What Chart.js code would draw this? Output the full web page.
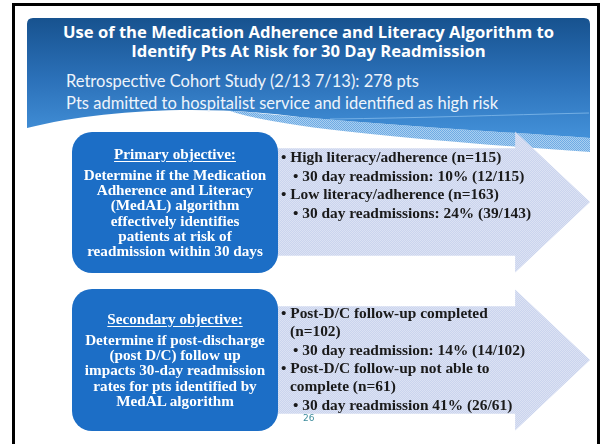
<!DOCTYPE html>
<html>
<head>
<meta charset="utf-8">
<script src="https://cdn.jsdelivr.net/npm/chart.js@4/dist/chart.umd.min.js"></script>
<style>
  html, body { margin: 0; padding: 0; background: #fff; }
  #slide { position: relative; width: 602px; height: 444px; overflow: hidden; background: #fff; }
  #frame { position: absolute; left: 12px; top: 3px; width: 582px; height: 500px; border: 3px solid #000; }
  #wave { position: absolute; left: 0; top: 0; }
  .title { position: absolute; left: 27px; width: 563px; text-align: center; color: #fff;
           font: bold 16.6px 'Open Sans', sans-serif; line-height: 19px; white-space: nowrap; }
  .sub { position: absolute; left: 66px; color: #eef4fb; font: 16.5px Lato, sans-serif; line-height: 20px; white-space: nowrap; }
  #arrow-wrap { position: absolute; left: 270px; top: 123px; width: 320px; height: 316px; }
  .objbox { position: absolute; left: 72px; width: 206px; background: #1c6ec6; border-radius: 20px; }
  .objtxt { position: absolute; left: 72px; width: 206px; text-align: center; color: #fff;
            font: bold 15.2px 'Liberation Serif', serif; line-height: 15px; white-space: nowrap; }
  .objtxt.head { text-decoration: underline; text-underline-offset: 2px; }
  .res { position: absolute; color: #1a1a1a; font: bold 15.4px 'Liberation Serif', serif; line-height: 18px; white-space: nowrap; }
  #pagenum { position: absolute; left: 303px; top: 413px; color: #3d8c9c; font: 9px 'DejaVu Sans', sans-serif; }
</style>
</head>
<body>
<div id="slide">
  <div id="frame"></div>
  <svg id="wave" width="602" height="444">
    <defs>
      <linearGradient id="hdr" x1="0" y1="0" x2="0" y2="1">
        <stop offset="0" stop-color="#17528f"/>
        <stop offset="0.5" stop-color="#2b70b8"/>
        <stop offset="1" stop-color="#4391d9"/>
      </linearGradient>
      <pattern id="dots" width="2" height="2" patternUnits="userSpaceOnUse">
        <rect width="2" height="2" fill="#a9cff0"/>
        <rect width="1" height="1" fill="#6fabe4"/>
        <rect x="1" y="1" width="1" height="1" fill="#6fabe4"/>
      </pattern>
    </defs>
    <path d="M230,111 C280,128 420,140 590,152 L590,138 C500,132 400,126 300,117 C270,114 250,112 230,111 Z" fill="url(#dots)"/>
    <path d="M27,24 Q27,18 33,18 L584,18 Q590,18 590,24 L590,138 C500,132 400,126 300,117 C200,104 100,110 27,128 Z" fill="url(#hdr)"/>
    <path d="M330,119 C420,118 500,115 589,113" fill="none" stroke="#8cc0ee" stroke-width="1" opacity="0.7"/>
  </svg>
  <div class="title" id="t1" style="top:22px"></div>
  <div class="title" id="t2" style="top:41px"></div>
  <div class="sub" id="s1" style="top:71px"></div>
  <div class="sub" id="s2" style="top:93px"></div>

  <div id="arrow-wrap"><canvas id="arrows"></canvas></div>

  <div class="objbox" style="top:132px;height:141px"></div>
  <div class="objbox" style="top:289px;height:142px"></div>
  <div id="texts"></div>
  <div id="pagenum">26</div>
</div>

<script>
// slide text
const titleLines = ['Use of the Medication Adherence and Literacy Algorithm to', 'Identify Pts At Risk for 30 Day Readmission'];
const studyLines = ['Retrospective Cohort Study (2/13 7/13): 278 pts', 'Pts admitted to hospitalist service and identified as high risk'];

const objectives = ['Primary objective:', 'Secondary objective:'];
const objectiveText = [
  ['Determine if the Medication', 'Adherence and Literacy', '(MedAL) algorithm', 'effectively identifies', 'patients at risk of', 'readmission within 30 days'],
  ['Determine if post-discharge', '(post D/C) follow up', 'impacts 30-day readmission', 'rates for pts identified by', 'MedAL algorithm'],
];

// results, [text, level]
const primaryResults = [
  ['• High literacy/adherence (n=115)', 0],
  ['•  30 day readmission: 10% (12/115)', 1],
  ['• Low literacy/adherence (n=163)', 0],
  ['• 30 day readmissions: 24% (39/143)', 1],
];
const secondaryResults = [
  ['• Post-D/C follow-up completed', 0],
  ['(n=102)', 2],
  ['• 30 day readmission: 14% (14/102)', 1],
  ['• Post-D/C follow-up not able to', 0],
  ['complete (n=61)', 2],
  ['• 30 day readmission 41% (26/61)', 1],
];

// one arrow per objective
const arrowSteps = [1, 1];

document.getElementById('t1').textContent = titleLines[0];
document.getElementById('t2').textContent = titleLines[1];
document.getElementById('s1').textContent = studyLines[0];
document.getElementById('s2').textContent = studyLines[1];

const texts = document.getElementById('texts');
function addLine(cls, text, left, top) {
  const d = document.createElement('div');
  d.className = cls;
  d.textContent = text;
  if (left !== null) d.style.left = left + 'px';
  d.style.top = top + 'px';
  texts.appendChild(d);
}

// objective boxes
const boxTop = [146, 311];
objectives.forEach((o, i) => {
  addLine('objtxt head', o, null, boxTop[i]);
  objectiveText[i].forEach((l, j) => addLine('objtxt', l, null, boxTop[i] + 21 + j * 15.2));
});

const indent = [281, 293, 290];
primaryResults.forEach((r, j) => addLine('res', r[0], indent[r[1]], 148 + j * 18.5));
secondaryResults.forEach((r, j) => addLine('res', r[0], indent[r[1]], 304 + j * 18.3));

// dotted lavender fill used by the arrows
function makePattern(ctx) {
  const c = document.createElement('canvas');
  c.width = 2; c.height = 2;
  const p = c.getContext('2d');
  p.fillStyle = '#dce2f3';
  p.fillRect(0, 0, 2, 2);
  p.fillStyle = '#cad4ee';
  p.fillRect(0, 0, 1, 1);
  p.fillRect(1, 1, 1, 1);
  return ctx.createPattern(c, 'repeat');
}

const arrowHeads = {
  id: 'arrowHeads',
  afterDatasetsDraw(chart) {
    const ctx = chart.ctx;
    const right = chart.chartArea.right;
    ctx.save();
    ctx.fillStyle = chart.data.datasets[0].backgroundColor;
    chart.getDatasetMeta(0).data.forEach((bar) => {
      const half = bar.height * 0.66;
      ctx.beginPath();
      ctx.moveTo(bar.x - 1, bar.y - half);
      ctx.lineTo(right, bar.y);
      ctx.lineTo(bar.x - 1, bar.y + half);
      ctx.closePath();
      ctx.fill();
    });
    ctx.restore();
  },
};

const actx = document.getElementById('arrows').getContext('2d');
new Chart(actx, {
  type: 'bar',
  data: {
    labels: objectives,
    datasets: [{
      data: arrowSteps,
      backgroundColor: makePattern(actx),
      borderWidth: 0,
      barThickness: 107,
    }],
  },
  options: {
    indexAxis: 'y',
    responsive: true,
    maintainAspectRatio: false,
    animation: false,
    layout: { padding: 0 },
    plugins: { legend: { display: false }, tooltip: { enabled: false } },
    scales: {
      x: { display: false, min: 0, max: 1.3 },
      y: { display: false },
    },
  },
  plugins: [arrowHeads],
});
</script>
</body>
</html>
